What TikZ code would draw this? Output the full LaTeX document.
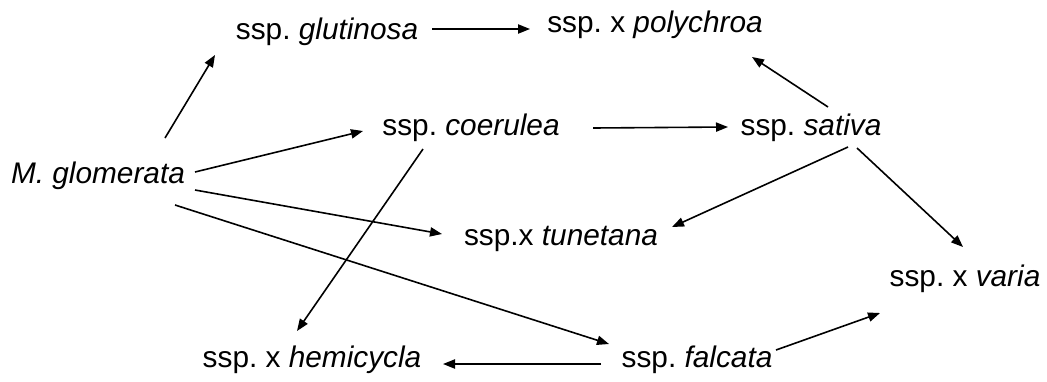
\documentclass[tikz,border=0pt]{standalone}
\usepackage{fontspec}
\setmainfont{Liberation Sans}
\usetikzlibrary{arrows.meta}
\frenchspacing
\begin{document}
\begin{tikzpicture}[x=0.5pt,y=-0.5pt,
  lab/.style={inner sep=0pt,anchor=base,font=\fontsize{14.9pt}{17pt}\selectfont},
  arr/.style={line width=0.8pt,-{Triangle[length=6pt,width=4.6pt]}}]
\useasboundingbox (0,0) rectangle (1047,381);
\node[lab] (glom) at (98,183) {\itshape M. glomerata};
\node[lab] (glut) at (327,39) {ssp. \textit{glutinosa}};
\node[lab] (poly) at (655,32) {ssp. x \textit{polychroa}};
\node[lab] (coer) at (471,135) {ssp. \textit{coerulea}};
\node[lab] (sat) at (811,135) {ssp. \textit{sativa}};
\node[lab] (tun) at (561,245) {ssp.x \textit{tunetana}};
\node[lab] (var) at (965,286) {ssp. x \textit{varia}};
\node[lab] (hemi) at (312,367) {ssp. x \textit{hemicycla}};
\node[lab] (falc) at (697,367) {ssp. \textit{falcata}};
\draw[arr] ([shift={(67,-45)}]glom.base) -- ([shift={(-112,16)}]glut.base);
\draw[arr] ([shift={(97,-11)}]glom.base) -- ([shift={(-108,-4)}]coer.base);
\draw[arr] ([shift={(97,7)}]glom.base) -- ([shift={(-119,-11)}]tun.base);
\draw[arr] ([shift={(77,22)}]glom.base) -- ([shift={(-88,-23)}]falc.base);
\draw[arr] ([shift={(105,-10)}]glut.base) -- ([shift={(-125,-3)}]poly.base);
\draw[arr] ([shift={(122,-7)}]coer.base) -- ([shift={(-83,-8)}]sat.base);
\draw[arr] ([shift={(17,-28)}]sat.base) -- ([shift={(97,25)}]poly.base);
\draw[arr] ([shift={(37,12)}]sat.base) -- ([shift={(111,-18)}]tun.base);
\draw[arr] ([shift={(46,13)}]sat.base) -- ([shift={(-2,-39)}]var.base);
\draw[arr] ([shift={(-48,14)}]coer.base) -- ([shift={(-15,-36)}]hemi.base);
\draw[arr] ([shift={(-96,-3)}]falc.base) -- ([shift={(131,-3)}]hemi.base);
\draw[arr] ([shift={(79,-17)}]falc.base) -- ([shift={(-85,27)}]var.base);
\end{tikzpicture}
\end{document}
